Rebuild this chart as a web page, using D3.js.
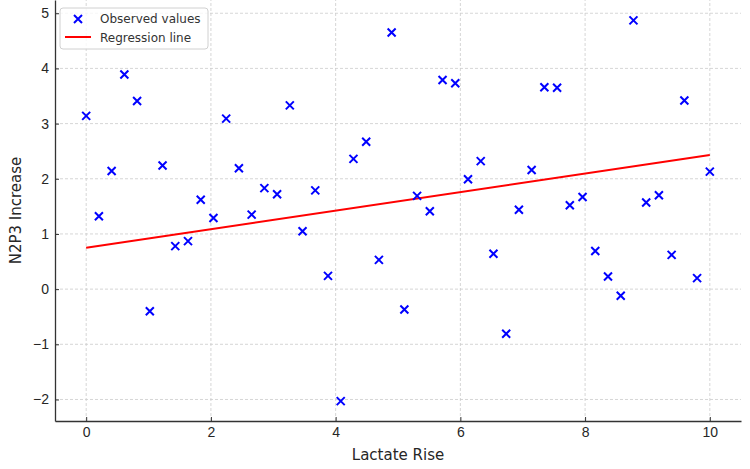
<!DOCTYPE html>
<html>
<head>
<meta charset="utf-8">
<script src="https://cdn.jsdelivr.net/npm/d3@7"></script>
<style>
  body { margin: 0; background: #fff; }
  svg { font-family: "DejaVu Sans", sans-serif; }
</style>
</head>
<body>
<div id="chart"></div>
<script>
// observed N2P3 values, one per lactate step
var lactate = d3.range(50).map(function (i) { return i * 10 / 49; });
var n2p3 = [3.14, 1.32, 2.14, 3.89, 3.41, -0.40, 2.24, 0.78, 0.87, 1.62,
            1.29, 3.09, 2.19, 1.35, 1.83, 1.72, 3.33, 1.05, 1.79, 0.24,
            -2.03, 2.36, 2.67, 0.53, 4.65, -0.37, 1.69, 1.41, 3.79, 3.73,
            1.99, 2.32, 0.64, -0.81, 1.44, 2.16, 3.66, 3.65, 1.52, 1.67,
            0.69, 0.23, -0.12, 4.87, 1.57, 1.70, 0.62, 3.42, 0.20, 2.13];
var regX = [0, 10];
var regY = [0.75, 2.43];
var xTicks = [0, 2, 4, 6, 8, 10];
var yTicks = [-2, -1, 0, 1, 2, 3, 4, 5];

var width = 750, height = 469;
var margin = {top: 0, right: 9, bottom: 48, left: 55};

var svg = d3.select("#chart").append("svg")
    .attr("width", width)
    .attr("height", height);

var xscale = d3.scaleLinear().domain([-0.5, 10.5]).range([margin.left, width - margin.right]);
var yscale = d3.scaleLinear().domain([-2.39, 5.24]).range([height - margin.bottom, margin.top]);

//grid
var grid = svg.append("g");
grid.selectAll("line.vx").data(xTicks).enter().append("line")
    .attr("x1", function (d) { return xscale(d); })
    .attr("x2", function (d) { return xscale(d); })
    .attr("y1", yscale.range()[0])
    .attr("y2", yscale.range()[1]);
grid.selectAll("line.hy").data(yTicks).enter().append("line")
    .attr("x1", xscale.range()[0])
    .attr("x2", xscale.range()[1])
    .attr("y1", function (d) { return yscale(d); })
    .attr("y2", function (d) { return yscale(d); });
grid.selectAll("line")
    .attr("stroke", "#cccccc")
    .attr("stroke-width", 0.8)
    .attr("stroke-dasharray", "3,2");

//axes, ticks point inward
var xAxis = d3.axisBottom(xscale).tickValues(xTicks).tickSizeInner(-4).tickSizeOuter(0).tickPadding(6)
    .tickFormat(d3.format("d"));
var yAxis = d3.axisLeft(yscale).tickValues(yTicks).tickSizeInner(-4).tickSizeOuter(0).tickPadding(6)
    .tickFormat(function (d) { return d < 0 ? "\u2212" + Math.abs(d) : d; });

var gx = svg.append("g")
    .attr("transform", "translate(0," + yscale.range()[0] + ")")
    .call(xAxis);
var gy = svg.append("g")
    .attr("transform", "translate(" + xscale.range()[0] + ",0)")
    .call(yAxis);

[gx, gy].forEach(function (g) {
    g.select(".domain").attr("stroke", "#333333").attr("stroke-width", 1.3);
    g.selectAll(".tick line").attr("stroke", "#333333").attr("stroke-width", 1);
    g.selectAll(".tick text").attr("fill", "#262626").style("font-size", "14px");
});

svg.append("text")
    .attr("x", (xscale.range()[0] + xscale.range()[1]) / 2)
    .attr("y", height - 9)
    .attr("text-anchor", "middle")
    .attr("fill", "#262626")
    .style("font-size", "15px")
    .text("Lactate Rise");

svg.append("text")
    .attr("transform", "translate(21," + (yscale.range()[0] + yscale.range()[1]) / 2 + ") rotate(-90)")
    .attr("text-anchor", "middle")
    .attr("fill", "#262626")
    .style("font-size", "15px")
    .text("N2P3 Increase");

//regression line
var line = d3.line()
    .x(function (d, i) { return xscale(regX[i]); })
    .y(function (d) { return yscale(d); });
svg.append("path")
    .datum(regY)
    .attr("d", line)
    .attr("fill", "none")
    .attr("stroke", "#ff0000")
    .attr("stroke-width", 2);

//observed points as x markers
svg.append("g").selectAll("path").data(n2p3).enter().append("path")
    .attr("d", "M-4,-4L4,4M-4,4L4,-4")
    .attr("transform", function (d, i) {
        return "translate(" + xscale(lactate[i]) + "," + yscale(d) + ")";
    })
    .attr("stroke", "#0000ff")
    .attr("stroke-width", 2);

//legend
var lg = svg.append("g").attr("transform", "translate(60,8)");
lg.append("rect")
    .attr("width", 148).attr("height", 41)
    .attr("rx", 3)
    .attr("fill", "#ffffff").attr("fill-opacity", 0.8)
    .attr("stroke", "#d0d0d0");
lg.append("path")
    .attr("d", "M-4,-4L4,4M-4,4L4,-4")
    .attr("transform", "translate(18,11)")
    .attr("stroke", "#0000ff").attr("stroke-width", 2);
lg.append("line")
    .attr("x1", 5).attr("x2", 31).attr("y1", 29).attr("y2", 29)
    .attr("stroke", "#ff0000").attr("stroke-width", 2);
lg.append("text").attr("x", 40).attr("y", 15)
    .attr("fill", "#333333").style("font-size", "12px").text("Observed values");
lg.append("text").attr("x", 40).attr("y", 34)
    .attr("fill", "#333333").style("font-size", "12px").text("Regression line");
</script>
</body>
</html>
